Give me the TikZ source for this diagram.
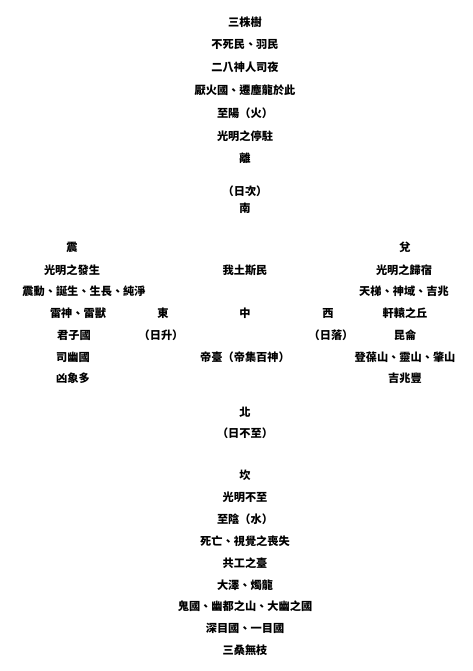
\documentclass[tikz,border=0pt]{standalone}
\usepackage{fontspec}
\usepackage{tikz}
\newfontfamily\cjk{Noto Sans CJK TC}

\begin{document}
\begin{tikzpicture}[x=1pt,y=-1pt,
  lbl/.style={inner sep=0pt,font=\cjk\bfseries\fontsize{11.2}{13}\selectfont},
  key/.style={lbl}]
  \useasboundingbox (0,0) rectangle (473,671);
  % south
  \node[lbl] (s1) at (245,22) {三株樹};
  \node[lbl] (s2) at (245,45) {不死民、羽民};
  \node[lbl] (s3) at (245,67) {二八神人司夜};
  \node[lbl] (s4) at (245,90) {厭火國、遷塵龍於此};
  \node[lbl] (s5) at (245,113) {至陽（火）};
  \node[lbl] (s6) at (245,136) {光明之停駐};
  \node[key] (s7) at (245,158) {離};
  \node[lbl] (s8) at (245,191) {（日次）};
  \node[key] (s9) at (245,208) {南};
  % east
  \node[key] (e1) at (72,247) {震};
  \node[lbl] (e2) at (72,270) {光明之發生};
  \node[lbl] (e3) at (84,291) {震動、誕生、生長、純淨};
  \node[lbl] (e4) at (78,313) {雷神、雷獸};
  \node[lbl] (e5) at (74,335) {君子國};
  \node[lbl] (e6) at (73,357) {司幽國};
  \node[lbl] (e7) at (73,378) {凶象多};
  \node[key] (e8) at (163,313) {東};
  \node[lbl] (e9) at (161,335) {（日升）};
  % center
  \node[lbl] (c1) at (245,270) {我土斯民};
  \node[key] (c2) at (245,313) {中};
  \node[lbl] (c3) at (245,357) {帝臺（帝集百神）};
  % west
  \node[key] (w1) at (405,247) {兌};
  \node[lbl] (w2) at (404,270) {光明之歸宿};
  \node[lbl] (w3) at (404,291) {天梯、神域、吉兆};
  \node[lbl] (w4) at (405,313) {軒轅之丘};
  \node[lbl] (w5) at (405,335) {昆侖};
  \node[lbl] (w6) at (405,357) {登葆山、靈山、肇山};
  \node[lbl] (w7) at (405,378) {吉兆豐};
  \node[key] (w8) at (328,313) {西};
  \node[lbl] (w9) at (331,335) {（日落）};
  % north
  \node[key] (n1) at (245,412) {北};
  \node[lbl] (n2) at (245,433) {（日不至）};
  \node[key] (n3) at (245,475) {坎};
  \node[lbl] (n4) at (245,497) {光明不至};
  \node[lbl] (n5) at (245,519) {至陰（水）};
  \node[lbl] (n6) at (245,541) {死亡、視覺之喪失};
  \node[lbl] (n7) at (245,563) {共工之臺};
  \node[lbl] (n8) at (245,585) {大澤、燭龍};
  \node[lbl] (n9) at (245,606) {鬼國、幽都之山、大幽之國};
  \node[lbl] (n10) at (245,628) {深目國、一目國};
  \node[lbl] (n11) at (245,650) {三桑無枝};
\end{tikzpicture}
\end{document}
